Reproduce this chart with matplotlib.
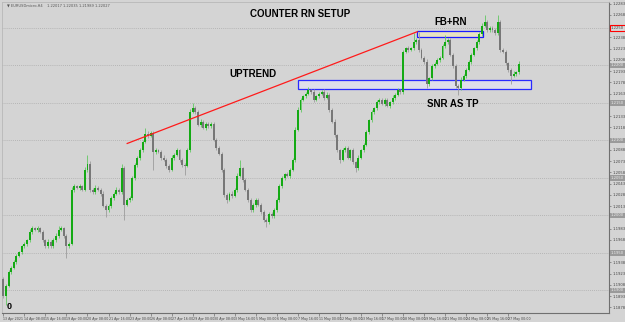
import matplotlib.pyplot as plt
import numpy as np

# EURUSD H4, 13 Apr - 27 May 2021
first_open = 1.1915
closes = [
    1.1893, 1.1906, 1.1925, 1.1930, 1.1938, 1.1946, 1.1951, 1.1959, 1.1962, 1.1967,
    1.1978, 1.1983, 1.1981, 1.1983, 1.1978, 1.1967, 1.1959, 1.1965, 1.1959, 1.1967,
    1.1973, 1.1981, 1.1983, 1.1973, 1.1959, 1.1962, 1.2034, 1.2039, 1.2037, 1.2039,
    1.2034, 1.2061, 1.2069, 1.2034, 1.2031, 1.2037, 1.2034, 1.2029, 1.2013, 1.2007,
    1.2013, 1.2023, 1.2029, 1.2034, 1.2031, 1.2063, 1.2014, 1.2021, 1.2023, 1.2050,
    1.2067, 1.2077, 1.2087, 1.2098, 1.2109, 1.2106, 1.2110, 1.2085, 1.2087, 1.2085,
    1.2077, 1.2074, 1.2066, 1.2061, 1.2077, 1.2081, 1.2087, 1.2074, 1.2067, 1.2066,
    1.2087, 1.2138, 1.2143, 1.2138, 1.2121, 1.2125, 1.2117, 1.2122, 1.2119, 1.2122,
    1.2101, 1.2090, 1.2082, 1.2061, 1.2027, 1.2021, 1.2029, 1.2026, 1.2034, 1.2053,
    1.2063, 1.2047, 1.2034, 1.2021, 1.2007, 1.2014, 1.2021, 1.2014, 1.2005, 1.1994,
    1.1991, 1.2002, 1.1999, 1.2007, 1.2021, 1.2039, 1.2050, 1.2055, 1.2053, 1.2061,
    1.2074, 1.2114, 1.2141, 1.2154, 1.2159, 1.2162, 1.2167, 1.2165, 1.2154, 1.2159,
    1.2162, 1.2165, 1.2157, 1.2161, 1.2141, 1.2125, 1.2107, 1.2087, 1.2074, 1.2087,
    1.2090, 1.2077, 1.2087, 1.2071, 1.2063, 1.2077, 1.2087, 1.2094, 1.2111, 1.2127,
    1.2138, 1.2143, 1.2151, 1.2154, 1.2149, 1.2154, 1.2146, 1.2151, 1.2157, 1.2161,
    1.2167, 1.2165, 1.2218, 1.2223, 1.2221, 1.2223, 1.2231, 1.2234, 1.2221, 1.2210,
    1.2205, 1.2175, 1.2183, 1.2199, 1.2202, 1.2207, 1.2210, 1.2226, 1.2231, 1.2234,
    1.2214, 1.2199, 1.2173, 1.2170, 1.2181, 1.2186, 1.2194, 1.2205, 1.2214, 1.2223,
    1.2231, 1.2242, 1.2253, 1.2258, 1.2247, 1.2250, 1.2247, 1.2243, 1.2258, 1.2221,
    1.2218, 1.2203, 1.2194, 1.2186, 1.2189, 1.2191, 1.2202,
]
# wick lengths in pips above / below the body
up_wick = [
    3, 2, 2, 3, 2, 3, 2, 2, 3, 2,
    4, 3, 2, 3, 2, 3, 2, 4, 2, 3,
    3, 5, 3, 2, 2, 2, 4, 3, 2, 3,
    2, 3, 11, 3, 2, 3, 2, 2, 3, 2,
    2, 3, 2, 4, 3, 6, 3, 2, 3, 2,
    3, 2, 3, 3, 8, 4, 3, 2, 3, 2,
    2, 3, 2, 2, 3, 2, 3, 2, 2, 3,
    3, 4, 7, 3, 2, 3, 2, 3, 2, 3,
    2, 2, 3, 2, 2, 3, 2, 3, 2, 3,
    11, 2, 3, 2, 2, 3, 2, 2, 3, 2,
    2, 3, 2, 3, 2, 3, 2, 2, 3, 2,
    3, 4, 3, 3, 2, 3, 4, 2, 3, 2,
    3, 2, 3, 4, 2, 2, 3, 2, 2, 3,
    2, 3, 2, 3, 2, 3, 2, 3, 3, 2,
    3, 2, 3, 2, 3, 2, 3, 2, 3, 2,
    3, 2, 3, 2, 3, 2, 12, 3, 11, 2,
    2, 3, 2, 3, 2, 3, 2, 3, 10, 3,
    2, 2, 3, 2, 3, 2, 3, 2, 3, 2,
    3, 3, 3, 9, 2, 3, 2, 3, 9, 3,
    2, 3, 2, 2, 3, 2, 4,
]
dn_wick = [
    3, 13, 2, 3, 2, 3, 2, 2, 2, 3,
    2, 3, 2, 3, 2, 3, 3, 2, 3, 2,
    2, 3, 2, 3, 16, 3, 2, 3, 2, 3,
    2, 2, 3, 3, 2, 3, 2, 3, 2, 9,
    2, 3, 2, 2, 3, 2, 20, 2, 3, 2,
    3, 2, 3, 2, 2, 3, 2, 24, 3, 2,
    3, 2, 3, 3, 2, 3, 2, 3, 3, 12,
    2, 3, 2, 3, 2, 3, 2, 3, 2, 3,
    2, 3, 2, 3, 3, 4, 2, 3, 2, 3,
    2, 3, 2, 3, 3, 2, 3, 2, 3, 3,
    6, 3, 2, 3, 2, 3, 2, 3, 2, 3,
    2, 3, 2, 3, 2, 3, 2, 3, 3, 2,
    3, 2, 3, 2, 3, 2, 3, 3, 4, 2,
    3, 2, 3, 2, 5, 3, 2, 3, 2, 3,
    2, 3, 2, 3, 2, 3, 2, 3, 2, 3,
    2, 3, 3, 2, 3, 2, 3, 2, 3, 2,
    3, 5, 3, 2, 3, 2, 3, 2, 3, 2,
    2, 3, 3, 10, 3, 2, 3, 2, 3, 2,
    3, 2, 3, 2, 3, 2, 3, 2, 3, 3,
    2, 3, 3, 11, 2, 3, 3,
]
xlabels = ["13 Apr 2021", "14 Apr 08:00", "15 Apr 16:00", "19 Apr 00:00", "20 Apr 08:00",
           "21 Apr 16:00", "23 Apr 00:00", "26 Apr 08:00", "27 Apr 16:00", "29 Apr 00:00",
           "30 Apr 08:00", "3 May 16:00", "5 May 00:00", "6 May 08:00", "7 May 16:00",
           "11 May 00:00", "12 May 08:00", "13 May 16:00", "17 May 00:00", "18 May 08:00",
           "19 May 16:00", "21 May 00:00", "24 May 08:00", "25 May 16:00", "27 May 00:00"]
round_levels = [1.1900, 1.1950, 1.2000, 1.2050, 1.2100, 1.2150, 1.2200, 1.2250]
trend_x = [47.1, 157.4]
trend_y = [1.2096, 1.2245]
fb_box = (157.4, 182.5, 1.2238, 1.2246)
snr_box = (112.2, 200.8, 1.2168, 1.2181)

closes = np.array(closes)
opens = np.concatenate([[first_open], closes[:-1]])
highs = np.maximum(opens, closes) + np.array(up_wick) * 0.0001
lows = np.minimum(opens, closes) - np.array(dn_wick) * 0.0001
idx = np.arange(len(closes))
bull = closes >= opens

bg = '#d4d4d4'
fig = plt.figure(figsize=(6.25, 3.22), dpi=100, facecolor=bg)
ax = fig.add_axes([2 / 625, 9 / 322, 607 / 625, 311 / 322], facecolor=bg)
ax.set_xlim(-0.5, 230.3)
ax.set_ylim(1.1870, 1.22846)

for lv in round_levels:
    ax.axhline(lv, color='#ababab', lw=0.6, ls=(0, (1, 1.5)), zorder=1)

# boxes sit under the candles
x0, x1, y0, y1 = fb_box
ax.add_patch(plt.Rectangle((x0, y0), x1 - x0, y1 - y0, facecolor='#e6e2c2',
                           edgecolor='#1a1aff', lw=0.9, zorder=1.5))
x0, x1, y0, y1 = snr_box
ax.add_patch(plt.Rectangle((x0, y0), x1 - x0, y1 - y0, facecolor='#dedeea',
                           edgecolor='#2a2aff', lw=0.9, zorder=1.5))

wick_col = np.where(bull, '#62c862', '#9c9c9c')
body_col = np.where(bull, '#14aa14', '#777777')
ax.vlines(idx, lows, highs, colors=wick_col, lw=0.6, zorder=2)
height = np.maximum(np.abs(closes - opens), 0.00008)
ax.bar(idx, height, bottom=np.minimum(opens, closes), width=0.74,
       color=body_col, lw=0, zorder=3)

ax.plot(trend_x, trend_y, color='#ff1a1a', lw=0.9, zorder=4)

tfont = dict(family=['Liberation Sans', 'DejaVu Sans'], fontweight='bold', color='black',
             fontsize=7, ha='center', va='center', zorder=6)
ax.text(113, 1.2268, 'COUNTER RN SETUP', **tfont)
ax.text(95, 1.2189, 'UPTREND', **tfont)
ax.text(170, 1.2258, 'FB+RN', **tfont)
ax.text(171, 1.2148, 'SNR AS TP', **tfont)
ax.text(1.2, 1.1873, '0', family=['Liberation Sans', 'DejaVu Sans'], fontweight='bold',
        fontsize=6.5, ha='left', va='bottom')
ax.text(1.5, 1.2280, '\u25bc EURUSDmicro,H4    1.22017 1.22035 1.21989 1.22027',
        fontsize=2.6, color='#555555', ha='left', va='center')

# price scale on the right, MT4 style
ax.yaxis.tick_right()
yt = np.arange(1.22826, 1.1870, -0.0015)
ax.set_yticks(yt)
ax.set_yticklabels(['' if min(abs(v - lv) for lv in round_levels) < 0.0006 else f'{v:.4f}'
                    for v in yt])
ax.tick_params(axis='y', labelsize=2.7, labelcolor='#444444', length=1.5, width=0.4,
               color='#555555', pad=0.8)
ax.set_xticks(np.arange(0, 8 * len(xlabels), 8))
ax.set_xticklabels(xlabels, ha='left')
ax.tick_params(axis='x', labelsize=2.3, labelcolor='#444444', length=2, width=0.4,
               color='#555555', pad=0.8)
for lab in ax.get_xticklabels():
    lab.set_x(lab.get_position()[0])
for s in ['top', 'left']:
    ax.spines[s].set_color('#b8b8b8')
    ax.spines[s].set_linewidth(0.6)
for s in ['right', 'bottom']:
    ax.spines[s].set_color('#707070')
    ax.spines[s].set_linewidth(0.8)

# highlighted round-number labels on the price scale
ytr = ax.get_yaxis_transform()
for lv in round_levels[:-1]:
    ax.text(1.003, lv, f'{lv:.4f}', transform=ytr, fontsize=2.7, color='#ececec',
            ha='left', va='center', clip_on=False,
            bbox=dict(boxstyle='square,pad=0.25', fc='#9a9a9a', ec='none'))
ax.text(1.003, round_levels[-1], f'{round_levels[-1]:.4f}', transform=ytr, fontsize=2.7,
        color='#444444', ha='left', va='center', clip_on=False,
        bbox=dict(boxstyle='square,pad=0.25', fc='#d8d8d8', ec='#ff0000', lw=0.8))

fig.savefig('out.png', dpi=100, facecolor=bg)
